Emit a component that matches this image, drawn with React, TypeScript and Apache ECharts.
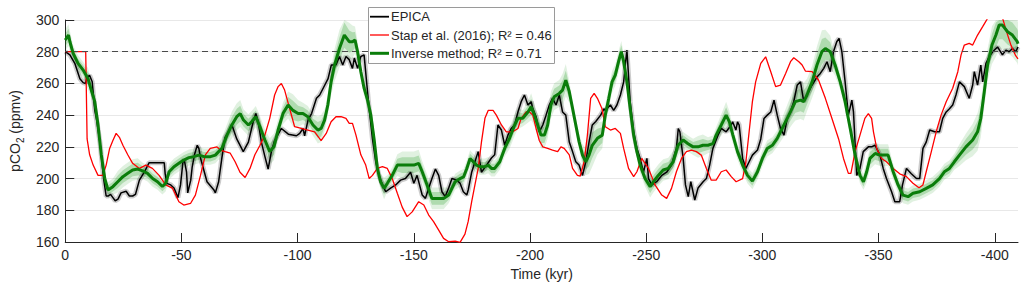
import React, { useEffect, useRef } from "react";
import * as echarts from "echarts";

const FONT = "'Liberation Sans', Arial, Helvetica, sans-serif";
const TXT = "#262626";

const xTickValues = [0, -50, -100, -150, -200, -250, -300, -350, -400];
const preindustrial = 280;

// EPICA record [time kyr, pCO2 ppmv]
const epica: [number, number][] = [
  [0, 280], [-2, 278], [-4.1, 272.7], [-6.3, 263], [-7.7, 260.5], [-8.7, 260], [-9.4, 264], [-10.5, 265], [-11.6, 261],
  [-12.7, 243], [-13.5, 237], [-15, 222], [-16.5, 200], [-17.6, 189], [-18.4, 189], [-19.5, 190], [-20.5, 188], [-21.5, 186],
  [-22.7, 187], [-24, 191], [-26.2, 192], [-27.6, 189], [-29, 189], [-30.2, 190], [-31.9, 199], [-34, 204], [-36.1, 210],
  [-41.1, 210], [-42.6, 210], [-43, 203], [-43.7, 197], [-45.4, 196], [-46.8, 194], [-48.5, 188], [-49.6, 196], [-50.6, 210],
  [-51.2, 212], [-52.2, 204], [-52.7, 191], [-54, 199], [-54.6, 207], [-55.6, 215], [-56.8, 221], [-57.5, 219], [-58.2, 213],
  [-61, 198], [-63.9, 193], [-64.6, 191], [-66, 198], [-67.4, 213], [-68.8, 226], [-70.3, 229.5], [-71.7, 234], [-73.8, 225],
  [-76.6, 217], [-78.8, 223], [-80.9, 236], [-82, 241], [-83, 236], [-84.4, 223], [-85.9, 214], [-87.3, 206], [-88.7, 217],
  [-90.1, 224], [-93, 231.6], [-96, 228], [-99.5, 227], [-100.9, 228.5], [-102.3, 231.6], [-103, 227], [-104.5, 237], [-106, 241],
  [-108.1, 250.6], [-109.5, 252.7], [-111.7, 259], [-113.1, 263], [-114.5, 271.6], [-116.5, 271.6], [-118, 277], [-119.4, 271.6],
  [-120.8, 277], [-122.2, 275], [-123.6, 269.5], [-124.4, 276], [-125.8, 269.5], [-127.2, 277], [-128.6, 278], [-129.8, 259],
  [-130.8, 244], [-132.2, 225], [-133.6, 210.6], [-135, 202], [-136.5, 196], [-137.9, 191.7], [-140, 194], [-142.2, 196],
  [-144.3, 199], [-146.4, 200], [-148.6, 204], [-150, 197], [-151.4, 202], [-153.6, 189.6], [-155, 187.5], [-156.4, 194],
  [-157.8, 200], [-159.3, 206], [-160.7, 202], [-162.1, 191.7], [-163.5, 188.6], [-165, 194], [-166.4, 200], [-168.5, 199],
  [-169.9, 197], [-171.3, 191.7], [-172.8, 189.6], [-173.4, 192.8], [-174.9, 204], [-176.3, 210.6], [-177.7, 217], [-179.1, 204],
  [-181.3, 208.5], [-183.4, 213], [-184.8, 215], [-186.2, 233.8], [-187.7, 230.6], [-189.1, 221], [-190.5, 227.4], [-191.9, 231.6],
  [-193.4, 233.8], [-194.8, 242], [-196.2, 248.5], [-197.6, 252.7], [-199.1, 246.4], [-200.5, 248.5], [-201.2, 244], [-202.6, 239],
  [-204, 229.5], [-205.5, 233.8], [-206.9, 240], [-208.3, 246.4], [-209.7, 250.6], [-211.2, 246.4], [-212.6, 252.7], [-214, 242],
  [-215.4, 240], [-216.9, 223], [-218.3, 217], [-219.7, 210.6], [-221.1, 208.5], [-222.6, 202], [-224, 210.6], [-225.4, 223],
  [-226.8, 233.8], [-228.3, 236], [-230.4, 240], [-231.8, 244], [-232.4, 243], [-234.6, 246.4], [-236, 243], [-237.4, 246.4],
  [-238.9, 252.7], [-240.3, 261], [-241, 271.6], [-241.7, 281], [-243.1, 248.5], [-244.6, 229.5], [-246, 219], [-247.4, 212.7],
  [-248.8, 204], [-250.3, 212.7], [-251, 200], [-252.4, 196], [-254.5, 198], [-256.7, 202], [-258.8, 204], [-260.9, 208.5],
  [-263, 219], [-263.8, 231.6], [-264.5, 229.5], [-265.9, 212.7], [-266.9, 196], [-268.1, 188.6], [-269.2, 198], [-270.9, 186.5],
  [-272.3, 194], [-274.5, 198], [-275.9, 200], [-277.3, 208.5], [-278.7, 219], [-280.9, 227.4], [-282.3, 231.6], [-284.4, 229.5],
  [-286.6, 233.8], [-287.2, 235.8], [-288.6, 230.6], [-289.3, 235.8], [-290, 233.8], [-291.5, 212.7], [-292.9, 206.4],
  [-294.3, 210.6], [-295.7, 214.8], [-297.9, 218], [-299.3, 225], [-300.7, 237.9], [-302.1, 240], [-303.6, 242], [-305, 249.5],
  [-306.4, 240], [-307.8, 231.6], [-309.3, 227.4], [-310.7, 237.9], [-312.1, 242], [-313.5, 248.5], [-315, 259], [-316.4, 261],
  [-317.8, 248.5], [-319.2, 252.7], [-321.4, 259], [-323.5, 264], [-324.9, 266.3], [-326.4, 269.5], [-327.8, 273.7],
  [-329.2, 267.4], [-330.6, 280], [-332, 286.3], [-333, 288.4], [-334.2, 280], [-335.6, 261], [-337, 240], [-338.5, 249.5],
  [-339.2, 242], [-340.6, 202], [-342, 206.4], [-343.4, 217], [-345.6, 220], [-347, 220], [-348.5, 221], [-350.6, 214.8],
  [-352, 206.4], [-353.4, 200], [-355.6, 191.7], [-357, 185.4], [-359.1, 185.4], [-360.3, 196], [-362, 206.4], [-364.1, 203],
  [-366.3, 200], [-367.7, 200], [-369.1, 219], [-370.5, 223], [-372, 230.6], [-374.1, 229.5], [-376.2, 229.5], [-377.6, 238],
  [-379.1, 242], [-380.5, 244], [-381.9, 246.4], [-383.3, 252.7], [-384.8, 261], [-386.9, 258], [-389, 250.6], [-390.5, 259],
  [-391.2, 267.4], [-392.6, 259], [-394, 271.6], [-394.8, 261], [-396.2, 272.6], [-397.6, 276.8], [-399.1, 280], [-401.2, 283],
  [-403.3, 278], [-404.8, 281], [-406.2, 280], [-407.6, 282], [-409, 280], [-410, 283],
];

// Stap et al. (2016) [time kyr, pCO2 ppmv]
const stap: [number, number][] = [
  [0, 280], [-8.8, 280], [-9.4, 225], [-10.5, 215], [-12, 208.5], [-14.1, 202], [-16.2, 202], [-17.6, 208.5], [-19.1, 219],
  [-20.5, 224], [-21.9, 228.5], [-23.3, 226], [-24.8, 221], [-26.9, 215], [-29, 209.6], [-31.9, 206.4], [-34.7, 208.5],
  [-37.5, 206.4], [-40.4, 202], [-43.2, 196], [-46.1, 194], [-48.9, 185.4], [-51, 183.3], [-53.9, 184.3], [-56, 189.6],
  [-58.2, 202], [-60.3, 215], [-62.4, 219], [-65.3, 220], [-66.7, 218], [-68.8, 217], [-71, 216], [-73.1, 210.6], [-75.2, 204],
  [-77.4, 200.7], [-79.5, 206.4], [-81.6, 215], [-83.8, 221], [-85.9, 227.4], [-88, 238], [-90.1, 252.7], [-91.6, 258], [-93, 260],
  [-94.4, 255.8], [-96.6, 244], [-98.7, 232.7], [-101.6, 231.6], [-104.4, 230.6], [-107.3, 229.5], [-110.1, 224], [-112.3, 228.5],
  [-114.4, 235.8], [-116.5, 239], [-118.7, 239], [-120.8, 238], [-122.2, 234.8], [-123.6, 234.8], [-125.1, 227.4], [-127.2, 215],
  [-129.3, 208.5], [-130.8, 200], [-132.2, 202], [-134.3, 206.4], [-136.5, 207.5], [-138.6, 206.4], [-140.7, 200], [-142.9, 190.7],
  [-145, 182], [-147.1, 176], [-149.3, 179], [-152.1, 185.4], [-154.3, 183.3], [-156.4, 177], [-158.5, 172.8], [-160.7, 167.5],
  [-162.8, 162.3], [-165, 160.2], [-167.8, 160.6], [-169.9, 159.8], [-172, 165], [-173.4, 173], [-174.9, 185.4], [-176.3, 196],
  [-177.7, 206.4], [-179.1, 223], [-180.6, 238], [-182, 243], [-184.1, 243], [-185.5, 240], [-187.7, 233.8], [-189.8, 229.5],
  [-192.6, 229.5], [-194.8, 231.6], [-196.2, 238], [-198.3, 242], [-199.8, 242], [-201.2, 240], [-202.6, 231.6], [-204, 224],
  [-205.5, 220], [-207.6, 219], [-209.7, 218], [-211.9, 217], [-213.3, 220], [-214.7, 219], [-216.9, 215], [-218.3, 206.4],
  [-220.4, 202], [-221.6, 201.6], [-223.3, 210.6], [-224.7, 227.4], [-226.1, 250.6], [-227.6, 253.7], [-229, 250.6], [-231, 244],
  [-232.4, 232.7], [-234.6, 230.6], [-236.7, 231.6], [-238.9, 228.5], [-240.3, 219], [-242.4, 206.4], [-244.6, 201.2],
  [-246, 204.3], [-248.1, 212.7], [-249.5, 209.6], [-251, 206.4], [-253.8, 196], [-256.7, 189.6], [-258.8, 187.5], [-260.9, 193.8],
  [-263, 204.3], [-265.2, 212.7], [-267.3, 217], [-269.5, 218], [-271.6, 217], [-273.7, 214.8], [-275.9, 206.4], [-278, 199],
  [-280.1, 199], [-282.3, 204.3], [-284.4, 205.4], [-286.6, 201.2], [-288.7, 198], [-291.5, 200], [-292.9, 210.6], [-294.3, 229.5],
  [-295.7, 248.5], [-297.1, 261], [-299.3, 272.6], [-301.4, 276.8], [-303.6, 267.4], [-305.7, 258], [-307.8, 259], [-310, 266.3],
  [-312.1, 273.7], [-313.5, 276.2], [-315.7, 273.7], [-317.1, 271.6], [-318.5, 267.8], [-321.4, 267.4], [-324.2, 262],
  [-327.1, 250.6], [-329.9, 238], [-332.8, 225], [-334.9, 212.7], [-337, 203.3], [-338.1, 203.3], [-339.9, 217], [-342, 227.4],
  [-344.1, 238], [-345.6, 241], [-347, 238], [-347.8, 229.5], [-349.2, 219], [-351.3, 212.7], [-353.4, 210.6], [-356.3, 206.4],
  [-359.1, 203], [-362, 201.2], [-364.8, 197], [-367.4, 194.2], [-369.1, 196], [-370.5, 204.3], [-372.7, 217], [-374.8, 229.5],
  [-376.9, 240], [-379.1, 248.5], [-381.9, 257], [-384.1, 267.4], [-385.5, 278], [-386.9, 284.2], [-389, 285.3], [-390.5, 284.2],
  [-392.6, 290.5], [-394.8, 295.8], [-396.9, 301], [-399, 306], [-401, 308], [-403, 303], [-405, 293], [-407, 284], [-409, 277.5],
  [-410, 275.5],
];

// Inverse method [time kyr, pCO2 ppmv, half-width of uncertainty band]
const inverse: [number, number, number][] = [
  [0, 287.4, 4], [-1.4, 290.5, 4], [-2, 286.3, 4], [-3.4, 279, 3], [-5.5, 272.6, 3], [-7.7, 268.4, 3], [-9.8, 263, 4],
  [-11.2, 255.8, 3], [-12.7, 248.5, 3], [-14.1, 233.8, 2], [-15.5, 215, 2], [-17, 200, 2], [-18.4, 192.8, 3], [-20.5, 194.9, 3],
  [-22.6, 198, 4], [-24.8, 201.2, 4], [-26.9, 203.3, 4], [-29, 205.4, 4], [-31.2, 206, 4], [-33.3, 204.8, 3], [-35.4, 203.3, 3],
  [-37.6, 200, 3], [-39.7, 198, 3], [-41.8, 195, 3], [-43.2, 197, 3], [-44.7, 204.3, 3], [-46.8, 207.5, 3], [-48.9, 209.6, 3],
  [-51, 211.7, 3], [-53.2, 213.2, 3], [-55.3, 213.8, 3], [-57.5, 214.8, 3], [-59.7, 213.8, 3], [-62.5, 213.8, 3], [-64.6, 214.8, 3],
  [-66, 217, 3], [-67.4, 219, 4], [-69.6, 227.4, 4], [-71.7, 233.8, 5], [-73.8, 239, 5], [-75.3, 241, 5], [-76.7, 236.9, 4],
  [-78.8, 233.8, 4], [-80.2, 235.8, 4], [-82, 239, 4], [-83.8, 232.7, 4], [-85.9, 224.3, 4], [-88, 217, 5], [-89.8, 220, 5],
  [-91.6, 230.6, 4], [-93.7, 241, 4], [-95.9, 246.4, 5], [-98, 243, 6], [-100.2, 241, 5], [-102.3, 241, 4], [-104.4, 239, 4],
  [-106.6, 233.8, 4], [-108.7, 230.6, 5], [-110.1, 231.6, 5], [-111.6, 236.9, 4], [-113, 246.4, 4], [-114.4, 261, 5],
  [-115.9, 271.6, 6], [-118, 282, 7], [-120.1, 290.5, 8], [-122.2, 286.3, 7], [-123.6, 286.3, 6], [-124.7, 287.4, 5],
  [-125.8, 280, 4], [-127.2, 267.4, 3], [-128.6, 257, 3], [-130.1, 249.5, 3], [-131.5, 240, 3], [-132.9, 225, 3], [-134.3, 206.4, 3],
  [-135.7, 198, 3], [-137.2, 193.8, 4], [-138.6, 197, 3], [-140.7, 202, 3], [-142.9, 208.5, 4], [-145, 208.5, 5], [-147.1, 208.5, 5],
  [-150, 208.5, 5], [-152.1, 209.6, 5], [-153.6, 204.3, 4], [-155.7, 196, 4], [-157.8, 187.5, 4], [-160, 187.5, 4],
  [-162.8, 187.5, 4], [-165, 189.6, 3], [-166.4, 193.8, 3], [-167.8, 198, 3], [-169.9, 200, 3], [-171.4, 201, 3], [-172.8, 206.4, 3],
  [-174.2, 212.7, 3], [-175.6, 210.6, 3], [-177, 208.5, 3], [-178.4, 207.5, 3], [-180.6, 207.5, 3], [-182, 208.5, 3],
  [-183.4, 206.4, 3], [-184.8, 206.4, 3], [-187, 210.6, 3], [-189.1, 219, 3], [-191.2, 225.4, 4], [-193.4, 233.8, 4],
  [-194.8, 238, 4], [-196.9, 238, 3], [-199.1, 242, 4], [-200.5, 245.3, 5], [-201.9, 240, 4], [-203.3, 233.8, 4], [-204.7, 227.4, 5],
  [-206.2, 227.4, 5], [-207.6, 233.8, 5], [-209, 246.4, 5], [-210.4, 251.6, 5], [-212.6, 253.7, 5], [-214, 255.8, 6],
  [-215.4, 262, 6], [-216.9, 254.8, 4], [-218.3, 244.3, 3], [-219.7, 233.8, 3], [-221.1, 223.3, 3], [-222.6, 214.8, 4],
  [-224, 210.6, 5], [-225.4, 214.8, 7], [-226.8, 221, 8], [-229, 225.4, 6], [-231.1, 227.4, 5], [-232.4, 240, 4], [-233.9, 250.6, 4],
  [-235.3, 261, 4], [-236.7, 265.3, 4], [-238.1, 273.7, 4], [-239.3, 280, 4], [-240.3, 273.7, 3], [-241.7, 261, 3],
  [-243.1, 244.3, 3], [-244.6, 227.4, 3], [-246, 217, 3], [-247.4, 208.5, 3], [-249.5, 200, 3], [-251.7, 194.9, 4], [-253.1, 198, 4],
  [-255.2, 202, 4], [-257.3, 205.4, 4], [-259.5, 206.4, 4], [-261.6, 210.6, 4], [-263.7, 221, 4], [-265.9, 224.3, 3], [-268, 222, 3],
  [-270.2, 220, 3], [-272.3, 220, 4], [-274.4, 221, 4], [-276.6, 221, 3], [-278.7, 222, 3], [-280.1, 227.4, 3], [-282.3, 233.8, 4],
  [-284.4, 240, 5], [-285.8, 235.8, 4], [-287.3, 227.4, 3], [-289.3, 217, 3], [-291.5, 208.5, 3], [-293.6, 202, 3],
  [-295.7, 198.4, 3], [-297.9, 204.3, 3], [-300, 212.7, 3], [-302.1, 219, 3], [-304.3, 221, 3], [-306.4, 225.4, 3], [-308.5, 231.6, 4],
  [-310.7, 238, 5], [-312.8, 244.3, 6], [-314.2, 248.5, 7], [-316.4, 249.5, 7], [-317.8, 248.5, 7], [-319.2, 252.7, 6],
  [-321.4, 261, 6], [-323.5, 271.6, 7], [-325.6, 280, 8], [-327.1, 282, 7], [-329.2, 280, 6], [-331.3, 271.6, 4], [-333.5, 261, 3],
  [-335.6, 248.5, 3], [-337.8, 231.6, 3], [-339.9, 214.8, 3], [-342, 202, 3], [-343.5, 198, 3], [-344.9, 204.3, 4],
  [-346.3, 212.7, 4], [-348.5, 215.8, 4], [-350.6, 214.8, 4], [-352.7, 214.8, 4], [-354.1, 214.8, 4], [-356.3, 204.3, 3],
  [-358.4, 196, 3], [-360.5, 189.6, 3], [-362.7, 188.6, 3], [-364.8, 190.7, 3], [-367.7, 191.7, 3], [-370.5, 193.8, 3],
  [-373.3, 196, 3], [-376.2, 200, 3], [-378.3, 204.3, 3], [-380.5, 206.4, 3], [-382.6, 210.6, 3], [-384.8, 214.8, 4],
  [-387.6, 220, 5], [-390.5, 224.3, 6], [-392.6, 229.5, 7], [-394, 238, 7], [-395.5, 254.8, 6], [-396.9, 271.6, 6],
  [-398.8, 284.2, 7], [-400.5, 290.5, 8], [-401.9, 296.8, 9], [-403.3, 296.8, 9], [-405.5, 292.6, 8], [-407.6, 290.5, 8],
  [-409.7, 286.3, 8], [-410, 285, 8],
];

const legendNames = ["EPICA", "Stap et al. (2016); R² = 0.46", "Inverse method; R² = 0.71"];
const seriesColors = ["#000000", "#ff0000", "#0a7d0a"];
const seriesWidths = [1.5, 1.3, 3];

function bandRenderer(scale: number, fill: string) {
  return (params: any, api: any) => {
    if (params.dataIndex !== 0) return null;
    const cs = params.coordSys;
    const clampY = (p: number[]) => [p[0], Math.max(cs.y, Math.min(cs.y + cs.height, p[1]))];
    const up = inverse.map((d) => clampY(api.coord([d[0], d[1] + d[2] * scale])));
    const lo = inverse.map((d) => clampY(api.coord([d[0], d[1] - d[2] * scale]))).reverse();
    return {
      type: "polygon",
      shape: { points: up.concat(lo), smooth: 0 },
      style: { fill, stroke: null },
      silent: true,
    };
  };
}

function legendGraphic() {
  const left = 368;
  const top = 7;
  const rowH = 18.3;
  const firstY = 16.7;
  const Z = 100;
  const els: any[] = [
    {
      type: "rect",
      z: Z,
      silent: true,
      shape: { x: left + 0.5, y: top + 0.5, width: 186, height: 56 },
      style: { fill: "#ffffff", stroke: "#9a9a9a", lineWidth: 1 },
    },
  ];
  legendNames.forEach((name, i) => {
    const y = firstY + i * rowH;
    els.push({
      type: "line",
      z: Z + 1,
      silent: true,
      shape: { x1: left + 2, y1: y, x2: left + 21, y2: y },
      style: { stroke: seriesColors[i], lineWidth: seriesWidths[i] + (i === 0 ? 0.3 : 0) },
    });
    els.push({
      type: "text",
      z: Z + 1,
      silent: true,
      x: left + 23,
      y,
      style: {
        text: name,
        font: `13px ${FONT}`,
        fill: TXT,
        textAlign: "left",
        textVerticalAlign: "middle",
        verticalAlign: "middle",
      },
    });
  });
  return els;
}

export default function App() {
  const ref = useRef<HTMLDivElement>(null);
  useEffect(() => {
    if (!ref.current) return;
    const chart = echarts.init(ref.current, null, { renderer: "svg" });
    chart.setOption({
      animation: false,
      backgroundColor: "#ffffff",
      textStyle: { fontFamily: FONT },
      grid: { left: 57, right: 8, top: 20, bottom: 45, containLabel: false },
      graphic: legendGraphic(),
      xAxis: {
        type: "value",
        min: -410,
        max: 0,
        inverse: true,
        name: "Time (kyr)",
        nameLocation: "middle",
        nameGap: 25,
        nameTextStyle: { fontSize: 14, color: TXT, fontFamily: FONT },
        axisLine: { onZero: false, lineStyle: { color: TXT, width: 1 } },
        axisTick: { inside: true, length: 9, customValues: xTickValues, lineStyle: { color: TXT } },
        axisLabel: { customValues: xTickValues, fontSize: 14, color: TXT, fontFamily: FONT, margin: 6 },
        splitLine: { show: false },
      },
      yAxis: {
        type: "value",
        min: 160,
        max: 300,
        interval: 20,
        name: "{n|pCO}{s|2}{n| (ppmv)}",
        nameLocation: "middle",
        nameGap: 36,
        nameTextStyle: {
          color: TXT,
          fontFamily: FONT,
          rich: {
            n: { fontSize: 14, lineHeight: 20, color: TXT, fontFamily: FONT },
            s: { fontSize: 10, lineHeight: 10, verticalAlign: "bottom", color: TXT, fontFamily: FONT },
          },
        },
        axisLine: { show: true, onZero: false, lineStyle: { color: TXT, width: 1 } },
        axisTick: { show: true, inside: true, length: 9, lineStyle: { color: TXT } },
        axisLabel: { fontSize: 14, color: TXT, fontFamily: FONT, margin: 6 },
        splitLine: { show: true, lineStyle: { color: "#e8e8e8", width: 1 } },
      },
      series: [
        {
          type: "custom",
          name: "band-outer",
          renderItem: bandRenderer(1.7, "rgba(0,140,0,0.12)"),
          data: [[0, 0]],
          z: 1,
          silent: true,
        },
        {
          type: "custom",
          name: "band-inner",
          renderItem: bandRenderer(1.0, "rgba(0,140,0,0.22)"),
          data: [[0, 0]],
          z: 1,
          silent: true,
        },
        {
          type: "line",
          name: "epica-halo",
          data: epica,
          symbol: "none",
          lineStyle: { color: "rgba(0,0,0,0.2)", width: 5 },
          z: 2,
          silent: true,
          markLine: {
            silent: true,
            symbol: "none",
            label: { show: false },
            lineStyle: { color: "#4a4a4a", width: 1, type: [6, 4] },
            data: [{ yAxis: preindustrial }],
          },
        },
        {
          type: "line",
          name: legendNames[0],
          data: epica,
          symbol: "none",
          lineStyle: { color: seriesColors[0], width: seriesWidths[0] },
          z: 3,
        },
        {
          type: "line",
          name: legendNames[1],
          data: stap,
          symbol: "none",
          lineStyle: { color: seriesColors[1], width: seriesWidths[1] },
          z: 4,
        },
        {
          type: "line",
          name: legendNames[2],
          data: inverse.map((d) => [d[0], d[1]]),
          symbol: "none",
          lineStyle: { color: seriesColors[2], width: seriesWidths[2] },
          z: 5,
        },
      ],
    });
    return () => chart.dispose();
  }, []);
  return (
    <div
      ref={ref}
      style={{ position: "fixed", left: 0, top: 0, width: 1026, height: 287, background: "#fff" }}
    />
  );
}
